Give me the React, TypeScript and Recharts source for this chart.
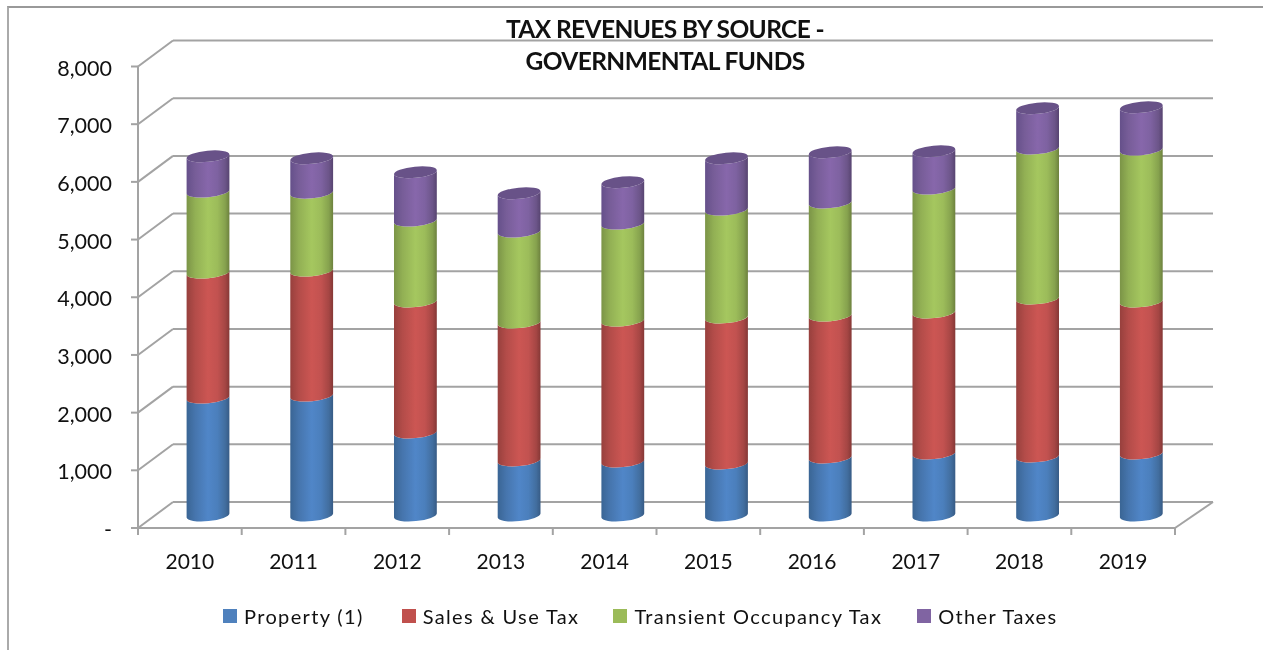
import { BarChart, Bar, XAxis, YAxis, CartesianGrid, Legend } from 'recharts'

const years = ['2010', '2011', '2012', '2013', '2014', '2015', '2016', '2017', '2018', '2019']
const property = [2044, 2079, 1439, 954, 936, 901, 1005, 1074, 1022, 1074]
const salesUse = [2167, 2166, 2270, 2391, 2443, 2531, 2461, 2445, 2739, 2635]
const transient = [1404, 1351, 1403, 1577, 1681, 1871, 1959, 2148, 2600, 2634]
const otherTaxes = [612, 596, 839, 664, 718, 890, 872, 648, 699, 734]
const yTicks = [0, 1000, 2000, 3000, 4000, 5000, 6000, 7000, 8000]

const data = years.map((year, i) => ({
  year,
  property: property[i],
  salesUse: salesUse[i],
  transient: transient[i],
  otherTaxes: otherTaxes[i],
}))

const W = 1263
const H = 650
const plotLeft = 138
const plotRight = 1175
const plotTop = 66.5
const plotBottom = 528
const band = (plotRight - plotLeft) / years.length
const axisColor = '#a3a3a3'
const font = 'Lato, sans-serif'

// fake 3d: how far the back wall sits from the front axes
const depthX = 35
const depthY = -26
// bars stand in the middle of the floor
const barDx = 18.5
const barDy = -12.5
const rx = 21.5
const ry = 5.6
const tilt = -5.5

const palette = {
  property: { id: 'gBlue', fill: '#4f81bd', cap: '#4a76ab', stops: ['#3a6594', '#4675ad', '#5086c8', '#4b7fbc', '#426e9f', '#375b85'] },
  salesUse: { id: 'gRed', fill: '#c0504d', cap: '#a94643', stops: ['#97403d', '#b34c49', '#cc5653', '#c25250', '#a54644', '#853836'] },
  transient: { id: 'gGreen', fill: '#9bbb59', cap: '#8aa64f', stops: ['#7b9447', '#92b054', '#a5c75f', '#9cbc5a', '#86a24e', '#6d813e'] },
  otherTaxes: { id: 'gPurple', fill: '#8064a2', cap: '#685288', stops: ['#65508a', '#775d98', '#8767ab', '#7e62a1', '#6c5589', '#574470'] },
}
const stopAt = [0, 0.2, 0.5, 0.72, 0.9, 1]

function Cylinder(props: any) {
  const { x, y, width, height, colors, isTop } = props
  const cx = x + width / 2 + barDx
  const top = y + barDy
  const bottom = y + height + barDy
  const dx = rx * Math.cos((tilt * Math.PI) / 180)
  const dy = rx * Math.sin((tilt * Math.PI) / 180)
  const arc = `${rx} ${ry} ${tilt}`
  const d = [
    `M ${cx - dx} ${top - dy}`,
    `L ${cx - dx} ${bottom - dy}`,
    `A ${arc} 0 0 ${cx + dx} ${bottom + dy}`,
    `L ${cx + dx} ${top + dy}`,
    `A ${arc} 0 1 ${cx - dx} ${top - dy}`,
    'Z',
  ].join(' ')
  return (
    <g>
      <path d={d} fill={`url(#${colors.id})`} />
      {isTop && <ellipse cx={cx} cy={top} rx={rx} ry={ry} fill={colors.cap} transform={`rotate(${tilt} ${cx} ${top})`} />}
    </g>
  )
}

function GridLine(props: any) {
  const { x1, x2, y1, y2 } = props
  const isFloor = Math.abs(y1 - plotBottom) < 1
  return (
    <g fill="none" stroke={axisColor} strokeWidth={2}>
      <line x1={x1} y1={y1} x2={x1 + depthX} y2={y1 + depthY} />
      <line x1={x1 + depthX} y1={y1 + depthY} x2={x2 + depthX + 3} y2={y2 + depthY} />
      {isFloor && <line x1={x2} y1={y2} x2={x2 + depthX + 3} y2={y2 + depthY} />}
    </g>
  )
}

function YearTick(props: any) {
  const { x, index, payload } = props
  return (
    <g>
      <line x1={x - band / 2} y1={plotBottom} x2={x - band / 2} y2={plotBottom + 7} stroke={axisColor} strokeWidth={2} />
      {index === years.length - 1 && (
        <line x1={x + band / 2} y1={plotBottom} x2={x + band / 2} y2={plotBottom + 7} stroke={axisColor} strokeWidth={2} />
      )}
      <text x={x} y={plotBottom + 41} textAnchor="middle" fontFamily={font} fontSize={21} fill="#111">
        {payload.value}
      </text>
    </g>
  )
}

function LegendRow({ payload }: any) {
  const gaps = [38, 34, 35, 0]
  return (
    <div style={{ display: 'flex', justifyContent: 'flex-start', paddingLeft: 223, paddingTop: 16, boxSizing: 'border-box', fontFamily: font, fontSize: 20, letterSpacing: 1.35, color: '#111', height: 62, alignItems: 'flex-start' }}>
      {(payload ?? []).map((item: any, i: number) => (
        <span key={item.value} style={{ display: 'inline-flex', alignItems: 'center', marginRight: gaps[i] }}>
          <span style={{ width: 14, height: 14, background: item.color, marginRight: 7, display: 'inline-block' }} />
          {item.value}
        </span>
      ))}
    </div>
  )
}

export default function App() {
  return (
    <div style={{ position: 'absolute', left: 0, top: 0, width: W, height: H, background: '#fff', overflow: 'hidden' }}>
      <div style={{ position: 'absolute', left: 7, top: 6, right: 0, bottom: 0, borderTop: '2px solid #999', borderLeft: '2px solid #aaa' }} />
      <div style={{ position: 'absolute', left: 0, top: 0, filter: 'blur(0.45px)' }}>
        <BarChart
          width={W}
          height={H}
          data={data}
          margin={{ top: plotTop, right: W - plotRight, bottom: 0, left: 0 }}
        >
          <defs>
            {Object.values(palette).map(p => (
              <linearGradient key={p.id} id={p.id} x1="0" y1="0" x2="1" y2="0">
                {p.stops.map((c, i) => (
                  <stop key={i} offset={stopAt[i]} stopColor={c} />
                ))}
              </linearGradient>
            ))}
          </defs>
          <CartesianGrid vertical={false} horizontal={GridLine as any} />
          <XAxis
            dataKey="year"
            height={60}
            interval={0}
            tickLine={false}
            axisLine={{ stroke: axisColor, strokeWidth: 2 }}
            tick={YearTick as any}
          />
          <YAxis
            width={plotLeft}
            domain={[0, 8000]}
            ticks={yTicks}
            interval={0}
            tickSize={7}
            tickMargin={19}
            tickLine={{ stroke: axisColor, strokeWidth: 2 }}
            axisLine={{ stroke: axisColor, strokeWidth: 2 }}
            tick={{ fill: '#111', fontSize: 21.5, fontFamily: font, dy: 1.5 }}
            tickFormatter={(v: number) => (v === 0 ? '-' : v.toLocaleString('en-US'))}
          />
          <Legend verticalAlign="bottom" height={62} itemSorter={null} content={LegendRow as any} wrapperStyle={{ left: 0, width: W }} />
          <Bar dataKey="property" name="Property (1)" stackId="a" barSize={43} fill={palette.property.fill} isAnimationActive={false} shape={(p: any) => <Cylinder {...p} colors={palette.property} />} />
          <Bar dataKey="salesUse" name="Sales & Use Tax" stackId="a" barSize={43} fill={palette.salesUse.fill} isAnimationActive={false} shape={(p: any) => <Cylinder {...p} colors={palette.salesUse} />} />
          <Bar dataKey="transient" name="Transient Occupancy Tax" stackId="a" barSize={43} fill={palette.transient.fill} isAnimationActive={false} shape={(p: any) => <Cylinder {...p} colors={palette.transient} />} />
          <Bar dataKey="otherTaxes" name="Other Taxes" stackId="a" barSize={43} fill={palette.otherTaxes.fill} isAnimationActive={false} shape={(p: any) => <Cylinder {...p} colors={palette.otherTaxes} isTop />} />
          <text x={665} y={38} textAnchor="middle" fontFamily={font} fontWeight={700} fontSize={24.5} letterSpacing={-0.6} fill="#111">
            TAX REVENUES BY SOURCE -
          </text>
          <text x={665} y={70} textAnchor="middle" fontFamily={font} fontWeight={700} fontSize={24.5} letterSpacing={-0.6} fill="#111">
            GOVERNMENTAL FUNDS
          </text>
        </BarChart>
      </div>
    </div>
  )
}
